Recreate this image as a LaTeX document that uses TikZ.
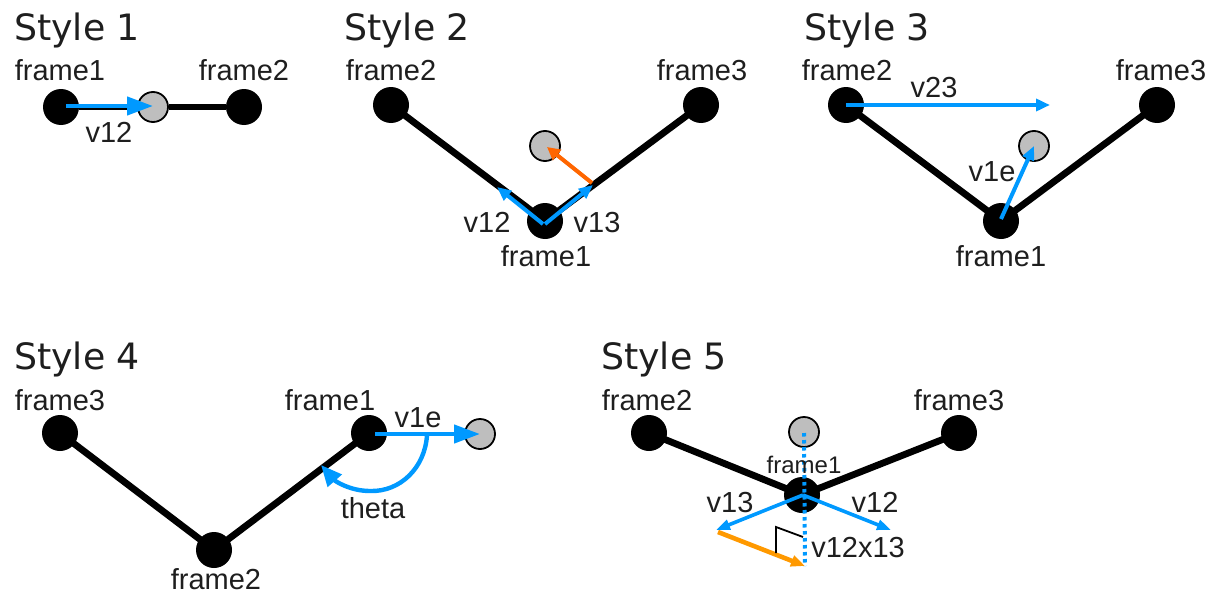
\documentclass[tikz,border=0pt]{standalone}
\usepackage{fontspec}
\setmainfont{Liberation Sans}
\newfontfamily\headfont{DejaVu Sans}
\usetikzlibrary{arrows.meta}
\definecolor{vblue}{HTML}{0099FF}
\definecolor{vorange}{HTML}{FF6600}
\definecolor{vamber}{HTML}{FF9900}
\definecolor{gfill}{HTML}{BEBEBE}
\definecolor{txt}{HTML}{1E1E1E}
\tikzset{
  x=1pt,y=-1pt,
  frm/.style={circle,fill=black,draw=none,minimum size=36pt,inner sep=0pt},
  ee/.style={circle,fill=gfill,draw=black,line width=1.8pt,minimum size=30pt,inner sep=0pt},
  bond/.style={line width=6.8pt,black},
  vec/.style={line width=4.4pt,vblue,-{Triangle[length=26pt,width=18pt]}},
  thinvec/.style={line width=4pt,vblue,-{Triangle[length=14pt,width=12pt]}},
  head/.style={font=\headfont\fontsize{36.3}{40}\selectfont,text=txt,inner sep=0pt,anchor=base west},
  lab/.style={font=\fontsize{29}{33}\selectfont,text=txt,inner sep=0pt,anchor=base},
  smalllab/.style={font=\fontsize{24}{28}\selectfont,text=txt,inner sep=0pt,anchor=base},
  dots/.style={line width=4pt,vblue,dash pattern=on 3.5pt off 3.5pt}
}
\begin{document}
\begin{tikzpicture}
\useasboundingbox (0,0) rectangle (1209,594);
% Style 1
\node[head] (h1) at (14,41) {Style 1};
\node[frm] (a1) at (61,107) {};
\node[frm] (a2) at (244,107) {};
\node[ee] (ae) at (153,107) {};
\draw[bond] (a1) -- (ae);
\draw[bond] (ae) -- (a2);
\coordinate (a1s) at (66,106);
\coordinate (aet) at (153,106);
\draw[vec] (a1s) -- (aet);
\node[lab] (l1) at (60,81) {frame1};
\node[lab] (l2) at (244,81) {frame2};
\node[lab] (l3) at (109,142) {v12};
% Style 2
\node[head] (h2) at (344,41) {Style 2};
\node[frm] (b2) at (391,105) {};
\node[frm] (b3) at (701,105) {};
\node[frm] (b1) at (545,221) {};
\node[ee] (be) at (545,146) {};
\draw[bond] (b2.center) -- (b1.center) -- (b3.center);
\coordinate (bs) at (543,224);
\coordinate (bs2) at (545,224);
\coordinate (bv12) at (497,187);
\coordinate (bv13) at (593,185);
\coordinate (bm) at (592,183);
\coordinate (bet) at (547,147);
\draw[thinvec] (bs) -- (bv12);
\draw[thinvec] (bs2) -- (bv13);
\draw[line width=4pt,vorange,-{Triangle[length=13pt,width=13pt]}] (bm) -- (bet);
\node[lab] (l4) at (391,81) {frame2};
\node[lab] (l5) at (702,81) {frame3};
\node[lab] (l6) at (487,232) {v12};
\node[lab] (l7) at (597,232) {v13};
\node[lab] (l8) at (546,266) {frame1};
% Style 3
\node[head] (h3) at (804,41) {Style 3};
\node[frm] (c2) at (846,105) {};
\node[frm] (c3) at (1157,105) {};
\node[frm] (c1) at (1001,221) {};
\node[ee] (ce) at (1034,146) {};
\draw[bond] (c2.center) -- (c1.center) -- (c3.center);
\coordinate (c23) at (1050,105);
\coordinate (c1s) at (1001,219);
\coordinate (cet) at (1034,146);
\draw[thinvec] (c2.center) -- (c23);
\draw[thinvec] (c1s) -- (cet);
\node[lab] (l9) at (847,81) {frame2};
\node[lab] (l10) at (1161,81) {frame3};
\node[lab] (l11) at (934,97) {v23};
\node[lab] (l12) at (992,181) {v1e};
\node[lab] (l13) at (1001,266) {frame1};
% Style 4
\node[head] (h4) at (14,369) {Style 4};
\node[frm] (d3) at (60,433) {};
\node[frm] (d2) at (214,550) {};
\node[frm] (d1) at (369,433) {};
\node[ee] (de) at (480,434) {};
\draw[bond] (d3.center) -- (d2.center) -- (d1.center);
\coordinate (d1s) at (375,434);
\coordinate (det) at (480,434);
\coordinate (darc) at (427,435);
\coordinate (dtip) at (321,465);
\draw[vec] (d1s) -- (det);
\draw[line width=4.4pt,vblue,-{Triangle[length=21pt,width=18pt]}] (darc) .. controls (425,468) and (400,492) .. (370,491) .. controls (350,491) and (335,481) .. (dtip);
\node[lab] (l14) at (60,410) {frame3};
\node[lab] (l15) at (330,410) {frame1};
\node[lab] (l16) at (418,427) {v1e};
\node[lab] (l17) at (373,518) {theta};
\node[lab] (l18) at (216,589) {frame2};
% Style 5
\node[head] (h5) at (601,369) {Style 5};
\node[frm] (e2) at (649,433) {};
\node[frm] (e3) at (959,433) {};
\node[frm] (e1) at (802,495) {};
\node[ee] (ee1) at (804,432) {};
\draw[bond] (e2.center) -- (e1.center) -- (e3.center);
\coordinate (e1s) at (803,495);
\coordinate (ev13) at (716,530);
\coordinate (ev12) at (891,530);
\coordinate (eot) at (718,532);
\coordinate (eoh) at (805,566);
\coordinate (eb) at (805,566);
\coordinate (et) at (804,433);
\coordinate (rk1) at (776,553);
\coordinate (rk2) at (776,527);
\coordinate (rk3) at (803,537);
\draw[dots] (et) -- (eb);
\draw[line width=3.6pt,vblue,-{Triangle[length=14pt,width=10pt]}] (e1s) -- (ev13);
\draw[line width=3.6pt,vblue,-{Triangle[length=14pt,width=10pt]}] (e1s) -- (ev12);
\draw[line width=4.6pt,vamber,-{Triangle[length=14pt,width=11pt]}] (eot) -- (eoh);
\draw[line width=1.8pt,black] (rk1) -- (rk2) -- (rk3);
\node[lab] (l19) at (647,410) {frame2};
\node[lab] (l20) at (959,410) {frame3};
\node[smalllab] (l21) at (804,473) {frame1};
\node[lab] (l22) at (730,512) {v13};
\node[lab] (l23) at (875,512) {v12};
\node[lab] (l24) at (858,557) {v12x13};
\end{tikzpicture}
\end{document}
